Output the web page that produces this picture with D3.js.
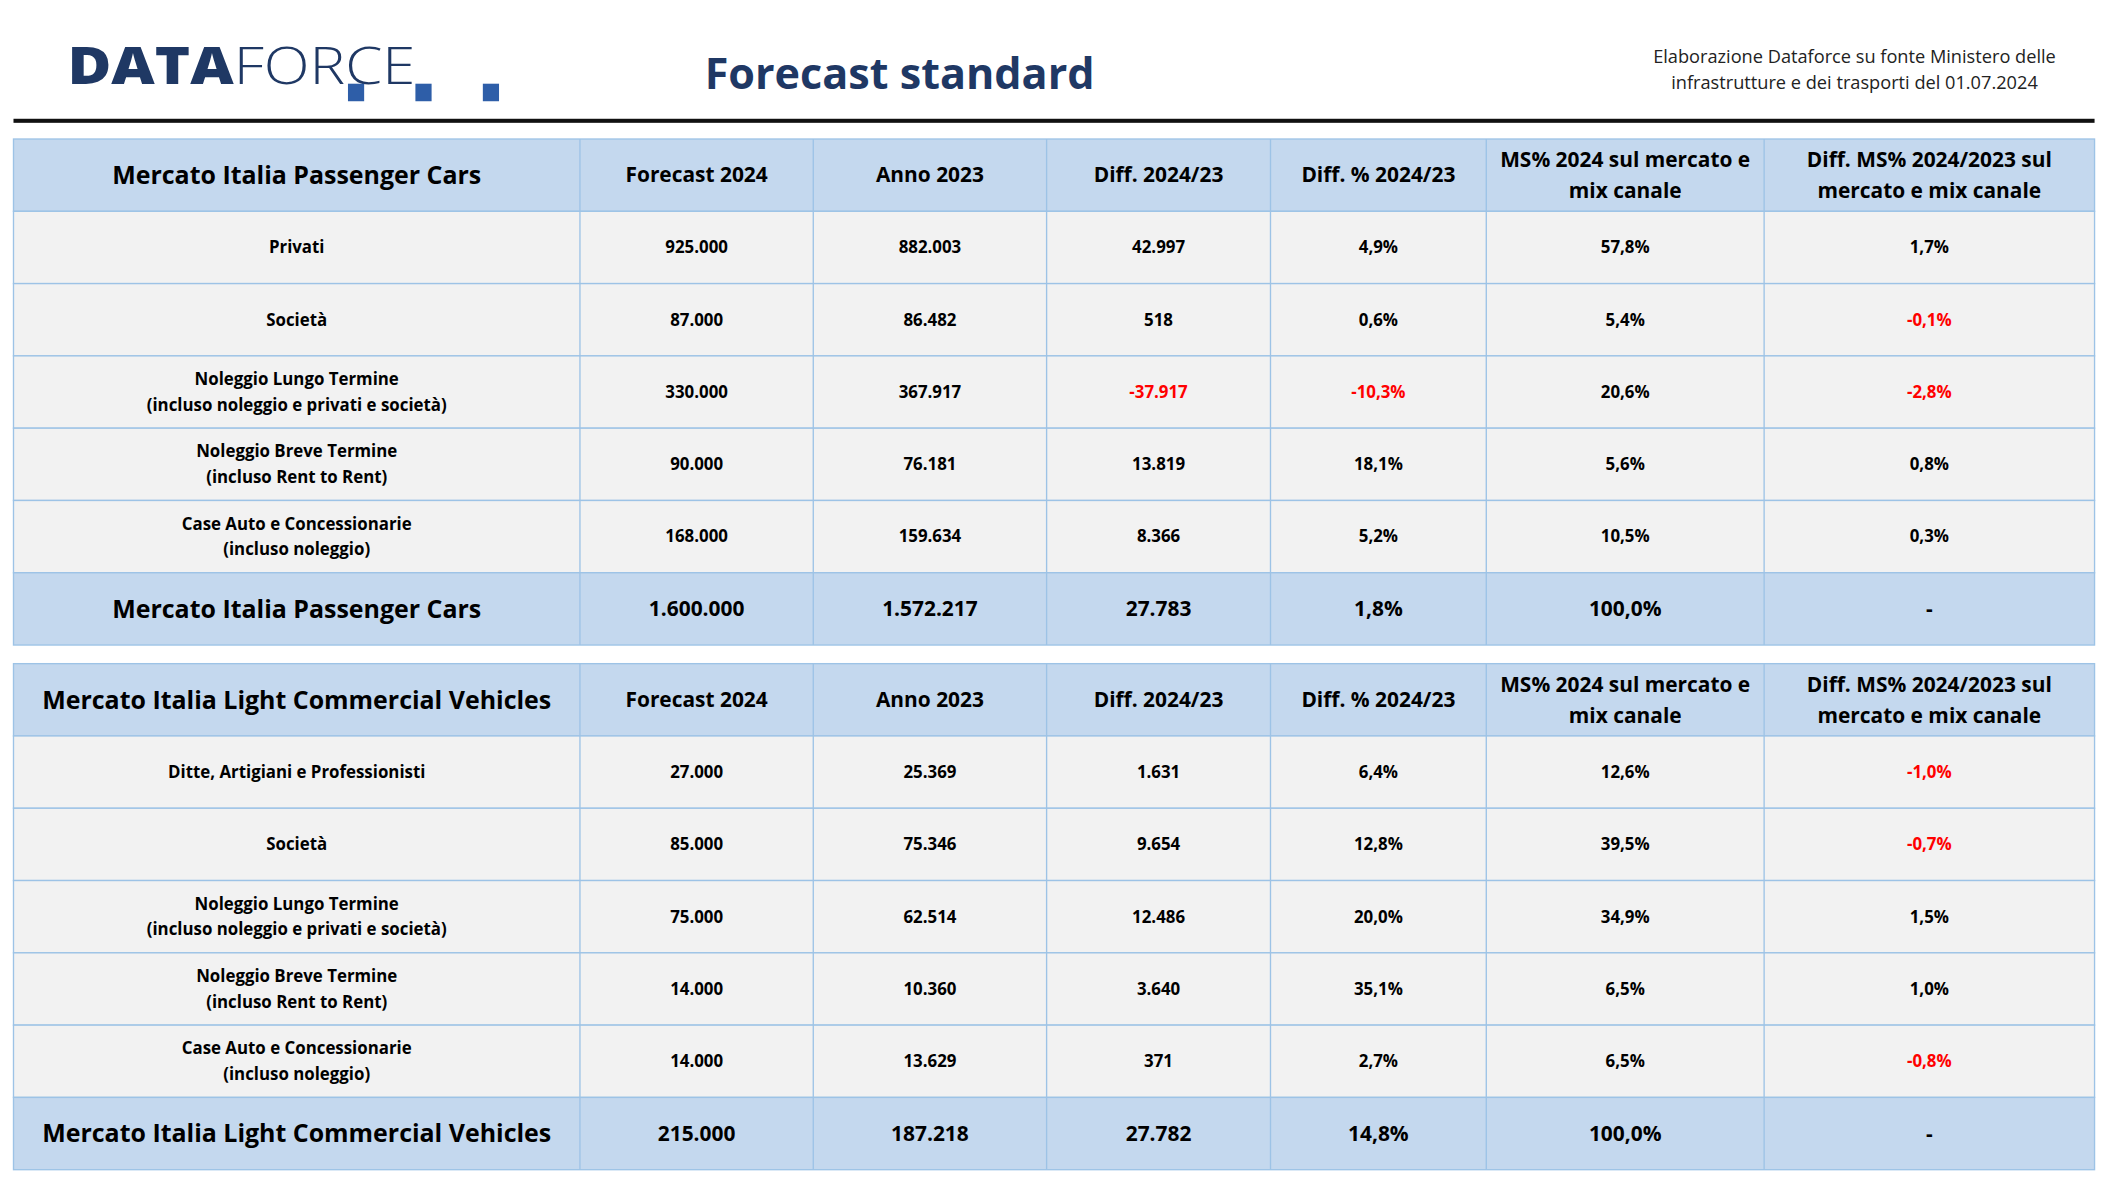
<!DOCTYPE html>
<html><head><meta charset="utf-8">
<script src="https://cdn.jsdelivr.net/npm/d3@7"></script>
<style>body{margin:0;background:#fff}svg{display:block}text{font-family:"Open Sans",sans-serif}</style>
</head><body>
<svg id="chart" width="2104" height="1183" viewBox="0 0 1560 877"></svg>
<script>
// data
const columns = ["Forecast 2024", "Anno 2023", "Diff. 2024/23", "Diff. % 2024/23", "MS% 2024 sul mercato e|mix canale", "Diff. MS% 2024/2023 sul|mercato e mix canale"];
const channelsPC = ["Privati", "Società", "Noleggio Lungo Termine|(incluso noleggio e privati e società)", "Noleggio Breve Termine|(incluso Rent to Rent)", "Case Auto e Concessionarie|(incluso noleggio)"];
const channelsLCV = ["Ditte, Artigiani e Professionisti", "Società", "Noleggio Lungo Termine|(incluso noleggio e privati e società)", "Noleggio Breve Termine|(incluso Rent to Rent)", "Case Auto e Concessionarie|(incluso noleggio)"];
const valuesPC = [
  ["925.000", "882.003", "42.997", "4,9%", "57,8%", "1,7%"],
  ["87.000", "86.482", "518", "0,6%", "5,4%", "-0,1%"],
  ["330.000", "367.917", "-37.917", "-10,3%", "20,6%", "-2,8%"],
  ["90.000", "76.181", "13.819", "18,1%", "5,6%", "0,8%"],
  ["168.000", "159.634", "8.366", "5,2%", "10,5%", "0,3%"]
];
const totalPC = ["1.600.000", "1.572.217", "27.783", "1,8%", "100,0%", "-"];
const valuesLCV = [
  ["27.000", "25.369", "1.631", "6,4%", "12,6%", "-1,0%"],
  ["85.000", "75.346", "9.654", "12,8%", "39,5%", "-0,7%"],
  ["75.000", "62.514", "12.486", "20,0%", "34,9%", "1,5%"],
  ["14.000", "10.360", "3.640", "35,1%", "6,5%", "1,0%"],
  ["14.000", "13.629", "371", "2,7%", "6,5%", "-0,8%"]
];
const totalLCV = ["215.000", "187.218", "27.782", "14,8%", "100,0%", "-"];

const svg = d3.select("#chart");
const colEdges = [10, 430, 603, 776, 942, 1102, 1308, 1553];
const navy = "#1f3864", blue = "#2e5ea8";

// header: logo, title, source
const logo = svg.append("text").attr("x", 50).attr("y", 62)
  .attr("font-size", 38).attr("fill", navy).attr("textLength", 258).attr("lengthAdjust", "spacingAndGlyphs");
logo.append("tspan").attr("font-weight", 800).text("DATA");
logo.append("tspan").attr("font-weight", 300).text("FORCE");
[258, 308, 358].forEach(x => svg.append("rect").attr("x", x).attr("y", 62).attr("width", 12).attr("height", 13).attr("fill", blue));
svg.append("text").attr("x", 667).attr("y", 66).attr("text-anchor", "middle")
  .attr("font-size", 32).attr("font-weight", 700).attr("fill", navy).text("Forecast standard");
["Elaborazione Dataforce su fonte Ministero delle", "infrastrutture e dei trasporti del 01.07.2024"].forEach((t, i) =>
  svg.append("text").attr("x", 1375).attr("y", 47 + i * 19).attr("text-anchor", "middle").attr("font-size", 13.5).attr("fill", "#222").text(t));
svg.append("rect").attr("x", 10).attr("y", 88).attr("width", 1543).attr("height", 3).attr("fill", "#111");

function multiline(g, x, yc, str, size, weight, fill, lh) {
  const lines = str.split("|");
  const t = g.append("text").attr("x", x).attr("text-anchor", "middle").attr("font-size", size)
    .attr("font-weight", weight).attr("fill", fill);
  lines.forEach((l, i) => t.append("tspan").attr("x", x)
    .attr("y", yc + (i - (lines.length - 1) / 2) * lh).attr("dy", "0.35em").text(l));
}

function drawTable(top, title, channels, values, total) {
  const g = svg.append("g");
  const names = ["header", ...channels.map((c, i) => "r" + i), "total"];
  const y = d3.scaleBand().domain(names).range([top, top + 53.6 * names.length]);
  names.forEach((n, i) => {
    const hdr = n === "header" || n === "total";
    g.append("rect").attr("x", colEdges[0]).attr("y", y(n)).attr("width", colEdges[7] - colEdges[0])
      .attr("height", y.bandwidth()).attr("fill", hdr ? "#c4d8ee" : "#f2f2f2").attr("stroke", "#9dc3e6");
    const yc = y(n) + y.bandwidth() / 2;
    for (let c = 0; c < 7; c++) {
      const xc = (colEdges[c] + colEdges[c + 1]) / 2;
      let str, size, fill = "#000";
      if (n === "header") { str = c === 0 ? title : columns[c - 1]; size = c === 0 ? 18.5 : 15.5; }
      else if (n === "total") { str = c === 0 ? title : total[c - 1]; size = c === 0 ? 18.5 : 15.5; }
      else {
        str = c === 0 ? channels[i - 1] : values[i - 1][c - 1]; size = 12.5;
        if (c > 0 && str.startsWith("-")) fill = "#ff0000";
      }
      multiline(g, xc, yc, str, size, 700, fill, n === "header" ? 23 : 19);
    }
  });
  colEdges.slice(1, 7).forEach(x => g.append("line").attr("x1", x).attr("x2", x)
    .attr("y1", top).attr("y2", top + 53.6 * names.length).attr("stroke", "#9dc3e6"));
}
drawTable(103, "Mercato Italia Passenger Cars", channelsPC, valuesPC, totalPC);
drawTable(492, "Mercato Italia Light Commercial Vehicles", channelsLCV, valuesLCV, totalLCV);
</script>
</body></html>
